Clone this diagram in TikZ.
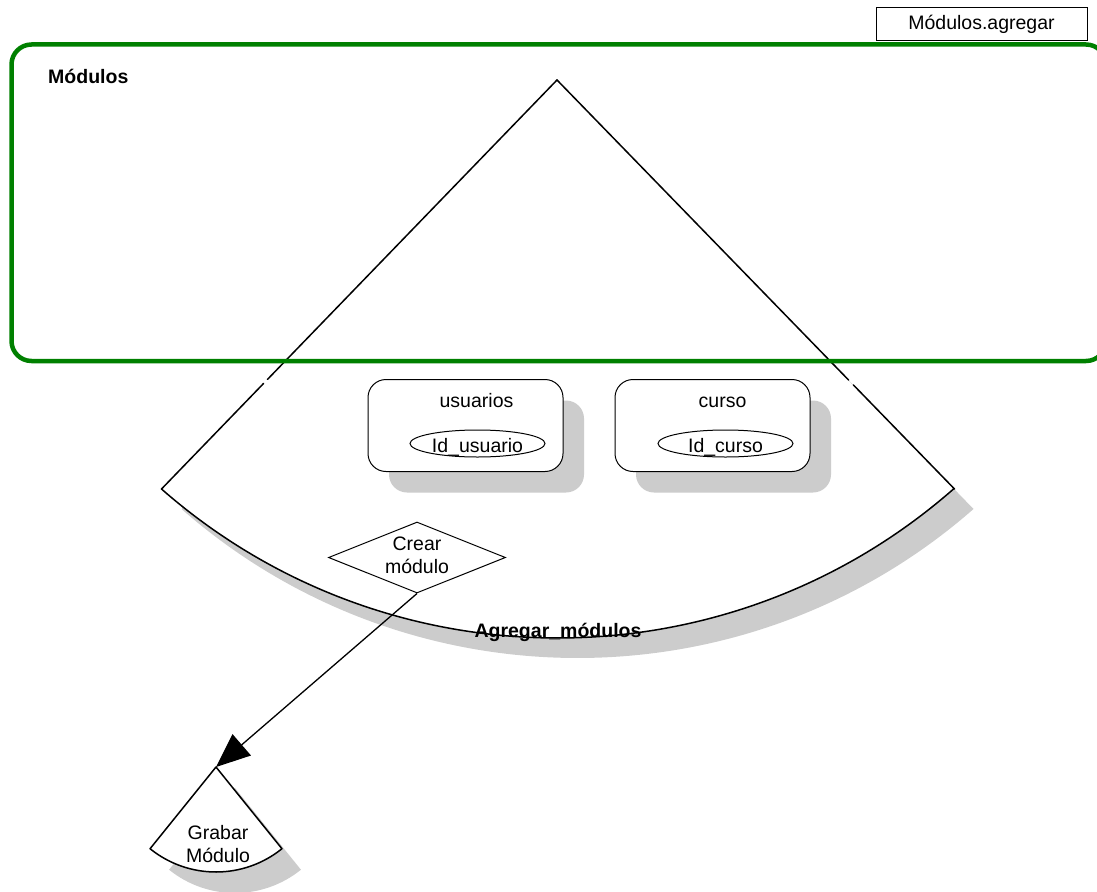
\documentclass[tikz,border=0pt]{standalone}
\usepackage{fontspec}
\setmainfont{Liberation Sans}
\usetikzlibrary{shapes.geometric,arrows.meta,calc}

\definecolor{shadowgray}{RGB}{204,204,204}
\definecolor{framegreen}{RGB}{0,128,0}

\tikzset{
  txt/.style={font=\fontsize{19.5}{23}\selectfont, inner sep=0pt},
  boldtxt/.style={txt, font=\fontsize{19.5}{23}\selectfont\bfseries},
  entitybox/.style={draw, line width=1pt, fill=white, rounded corners=18pt,
                    minimum width=195pt, minimum height=92pt, inner sep=0pt},
  entityshadow/.style={fill=shadowgray, rounded corners=18pt,
                    minimum width=195pt, minimum height=92pt, inner sep=0pt},
  keyattr/.style={ellipse, draw, line width=1pt, minimum width=135pt,
                  minimum height=27pt, inner sep=0pt},
  edge/.style={line width=1.5pt, line cap=round},
}

\begin{document}
\begin{tikzpicture}[x=1pt, y=-1pt]
\useasboundingbox (0,0) rectangle (1097,891);

% --- shadows of the two process shapes ---
\fill[shadowgray, shift={(20,20)}]
  (557,80) -- (161.5,489) arc[start angle=228.76, end angle=311.24, radius=600.75pt] -- cycle;
\fill[shadowgray, shift={(19,21)}]
  (216,767) -- ($(216,767)+(231.1:105pt)$) arc[start angle=231.1, end angle=308.9, radius=105pt] -- cycle;

% --- big process shape: Agregar_modulos ---
\coordinate (apex) at (557,80);
\coordinate (lc) at (161.5,489);
\coordinate (rc) at (954.5,489);
\fill[white] (apex) -- (lc) arc[start angle=228.76, end angle=311.24, radius=600.75pt] -- cycle;
\draw[edge] (lc) arc[start angle=228.76, end angle=311.24, radius=600.75pt];
\draw[edge] (apex) -- ($(apex)!0.732!(lc)$);
\draw[edge] ($(apex)!0.742!(lc)$) -- (lc);
\draw[edge] (apex) -- ($(apex)!0.7335!(rc)$);
\draw[edge] ($(apex)!0.7457!(rc)$) -- (rc);
\node[boldtxt, anchor=base] (agregar) at (558,637) {Agregar\_módulos};

% --- entities ---
\node[entityshadow] (usuariosshadow) at (486.5,446.5) {};
\node[entityshadow] (cursoshadow) at (733.5,446.5) {};
\node[entitybox] (usuarios) at (465.5,425.5) {};
\node[entitybox] (curso) at (712.5,425.5) {};
\node[txt, anchor=base] (usuariostitle) at (476.5,407) {usuarios};
\node[txt, anchor=base] (cursotitle) at (722.5,407) {curso};
\node[keyattr] (idusuario) at (477.5,443.5) {};
\node[txt, anchor=base] (idusuariotxt) at (477.5,452) {Id\_usuario};
\node[keyattr] (idcurso) at (725.5,443.5) {};
\node[txt, anchor=base] (idcursotxt) at (725.5,452) {Id\_curso};

% --- decision: Crear modulo ---
\node[diamond, draw, line width=1pt, fill=white, minimum width=177pt,
      minimum height=71pt, inner sep=0pt, aspect=2.49] (crear) at (417,557.5) {};
\node[txt, align=center] (creartxt) at (417,555.5) {Crear\\módulo};

% --- small process shape: Grabar Modulo ---
\coordinate (grabarapex) at (216,767);
\fill[white] (grabarapex) -- ($(grabarapex)+(231.1:105pt)$) arc[start angle=231.1, end angle=308.9, radius=105pt] -- cycle;
\draw[line width=1.5pt, line join=round] (grabarapex) -- ($(grabarapex)+(231.1:105pt)$)
  arc[start angle=231.1, end angle=308.9, radius=105pt] -- cycle;
\node[txt, align=center] (grabar) at (218,844) {Grabar\\Módulo};

% --- flow from decision to save ---
\draw[line width=1.3pt, -{Triangle[length=34pt, width=28pt]}] (crear.south) -- (grabarapex);

% --- module frame ---
\draw[framegreen, line width=4.5pt, rounded corners=20pt] (11.5,44.5) rectangle (1106,361);
\node[boldtxt, anchor=base west] (modulos) at (48,84) {Módulos};

% --- name tag ---
\node[draw, line width=1pt, minimum width=211pt, minimum height=33pt, inner sep=0pt,
      font=\fontsize{19.5}{23}\selectfont] (tag) at (981.5,24.5) {Módulos.agregar};
\end{tikzpicture}
\end{document}
